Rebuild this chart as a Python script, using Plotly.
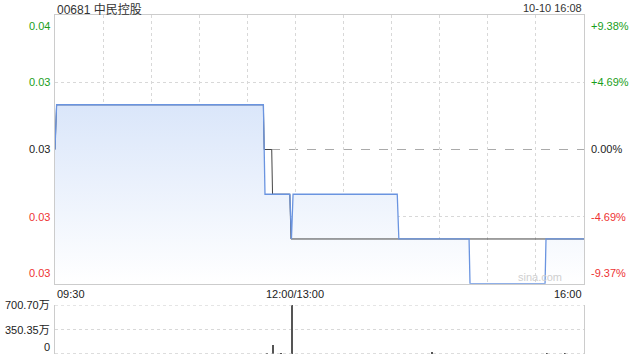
import plotly.graph_objects as go

# ---------------- data ----------------
stock_title = "00681 中民控股"
stamp = "10-10 16:08"
prev_close = 0.032

# price line (blue, filled) : minutes since 09:30 on a 330-minute trading axis
price_min = [0, 1, 130, 131, 146.5, 147.5, 148.5, 213.5, 214.5, 258.3, 258.9, 305.7, 306.3, 330]
price_val = [0.032, 0.033, 0.033, 0.031, 0.031, 0.030, 0.031, 0.031, 0.030, 0.030, 0.029, 0.029, 0.030, 0.030]

# average line (dark)
avg_min = [0, 1, 130, 130.5, 135.2, 135.7, 146.5, 147.2, 330]
avg_val = [0.032, 0.033, 0.033, 0.032, 0.032, 0.031, 0.031, 0.030, 0.030]

# volume (万)
vol_min = [132, 136, 141, 148, 235, 307, 318]
vol_val = [6, 128, 5, 700.70, 18, 8, 6]
vol_max = 700.70

price_ticks = [0.035, 0.0335, 0.032, 0.0305, 0.029]
left_labels = ["0.04", "0.03", "0.03", "0.03", "0.03"]
right_labels = ["+9.38%", "+4.69%", "0.00%", "-4.69%", "-9.37%"]
vol_ticks = [700.70, 350.35, 0]
vol_labels = ["700.70万", "350.35万", "0"]
time_ticks = [0, 30, 60, 90, 120, 150, 180, 210, 240, 270, 300, 330]
time_labels = {0: "09:30", 150: "12:00/13:00", 330: "16:00"}

# ---------------- figure ----------------
GREEN = "#1a9e1a"
RED = "#ee3333"
BLACK = "#222222"
FONT = "Liberation Sans, Arial, Noto Sans CJK SC, sans-serif"

main_dom = [1 - 283.7 / 360, 1 - 15.3 / 360]
vol_dom = [1 - 354 / 360, 1 - 305 / 360]

fig = go.Figure()
fig.add_trace(go.Scatter(
    x=price_min, y=price_val, mode="none",
    fill="tozeroy",
    fillgradient=dict(type="vertical", start=0.029, stop=0.033,
                      colorscale=[[0, "rgba(255,255,255,1)"], [1, "rgba(218,230,250,1)"]]),
    xaxis="x", yaxis="y", hoverinfo="skip"))
fig.add_trace(go.Scatter(
    x=avg_min, y=avg_val, mode="lines",
    line=dict(color="#444444", width=1),
    xaxis="x", yaxis="y", hoverinfo="skip"))
fig.add_trace(go.Scatter(
    x=price_min, y=price_val, mode="lines",
    line=dict(color="#6a94e0", width=1.3),
    xaxis="x", yaxis="y", hoverinfo="skip"))
fig.add_trace(go.Bar(
    x=vol_min, y=vol_val, width=0.6, marker=dict(color="#555555", line=dict(width=0)),
    xaxis="x2", yaxis="y2", hoverinfo="skip"))

grid = dict(showgrid=True, gridcolor="#d8d8d8", griddash="dot", gridwidth=1)

fig.update_layout(
    width=640, height=360, margin=dict(l=55, r=56, t=0, b=0),
    paper_bgcolor="white", plot_bgcolor="white", showlegend=False,
    font=dict(family=FONT, size=11, color=BLACK),
    xaxis=dict(domain=[0, 1], range=[0, 330], tickvals=time_ticks, showticklabels=False,
               ticks="", zeroline=False, showline=True, mirror=True, linecolor="#cccccc",
               anchor="y", **grid),
    yaxis=dict(domain=main_dom, range=[price_ticks[-1], price_ticks[0]],
               tickvals=[t for t in price_ticks[1:-1] if t != prev_close],
               showticklabels=False, ticks="", zeroline=False, showline=True, mirror=True,
               linecolor="#cccccc", anchor="x", **grid),
    xaxis2=dict(domain=[0, 1], range=[0, 330], showticklabels=False, showgrid=False,
                zeroline=False, showline=False, anchor="y2", ticks=""),
    yaxis2=dict(domain=vol_dom, range=[0, vol_max], tickvals=[vol_ticks[1]],
                showticklabels=False, ticks="", zeroline=False, showline=True, mirror=True,
                linecolor="#cccccc", anchor="x2", **grid),
    bargap=0,
)

shapes = [
    dict(type="line", xref="x domain", yref="y", x0=0, x1=1, y0=prev_close, y1=prev_close,
         line=dict(color="#aaaaaa", width=1, dash="dash"), layer="below"),
    dict(type="line", xref="x2 domain", yref="y2", x0=0, x1=1, y0=vol_max, y1=vol_max,
         line=dict(color="#cccccc", width=1, dash="dot")),
    dict(type="line", xref="x2 domain", yref="y2", x0=0, x1=1, y0=0, y1=0,
         line=dict(color="#bbbbbb", width=1, dash="dot")),
]
fig.update_layout(shapes=shapes)

ann = []
n = len(price_ticks)
for i, (v, lt, rt) in enumerate(zip(price_ticks, left_labels, right_labels)):
    col = GREEN if v > prev_close + 1e-12 else (RED if v < prev_close - 1e-12 else BLACK)
    ya = "top" if i == 0 else ("bottom" if i == n - 1 else "middle")
    ys = -3 if i == 0 else (3 if i == n - 1 else 0)
    ann.append(dict(x=0, xref="paper", y=v, yref="y", text=lt, showarrow=False,
                    xanchor="right", yanchor=ya, xshift=-3, yshift=ys,
                    font=dict(color=col, size=11)))
    ann.append(dict(x=1, xref="paper", y=v, yref="y", text=rt, showarrow=False,
                    xanchor="left", yanchor=ya, xshift=5, yshift=ys,
                    font=dict(color=col, size=11)))

for i, (v, lab) in enumerate(zip(vol_ticks, vol_labels)):
    ya = "bottom" if i == len(vol_ticks) - 1 else "middle"
    ann.append(dict(x=0, xref="paper", y=v, yref="y2", text=lab, showarrow=False,
                    xanchor="right", yanchor=ya, xshift=-3, yshift=-1 if ya == "bottom" else 0,
                    font=dict(color=BLACK, size=11)))

for t, lab in time_labels.items():
    xa = "left" if t == 0 else ("right" if t == 330 else "center")
    ann.append(dict(x=t, xref="x", y=main_dom[0], yref="paper", text=lab, showarrow=False,
                    xanchor=xa, yanchor="top", yshift=-2, font=dict(color=BLACK, size=11)))

ann.append(dict(x=0, xref="paper", y=1, yref="paper", text=stock_title, showarrow=False,
                xanchor="left", yanchor="top", yshift=0, font=dict(color="#333333", size=12)))
ann.append(dict(x=1, xref="paper", y=1, yref="paper", text=stamp, showarrow=False,
                xanchor="right", yanchor="top", yshift=0, font=dict(color="#333333", size=11)))
ann.append(dict(x=1, xref="paper", y=main_dom[0], yref="paper", text="sina.com",
                showarrow=False, xanchor="right", yanchor="bottom", xshift=-20, yshift=-1,
                font=dict(color="#cfcfcf", size=11)))
fig.update_layout(annotations=ann)

fig.write_html("out.html")
